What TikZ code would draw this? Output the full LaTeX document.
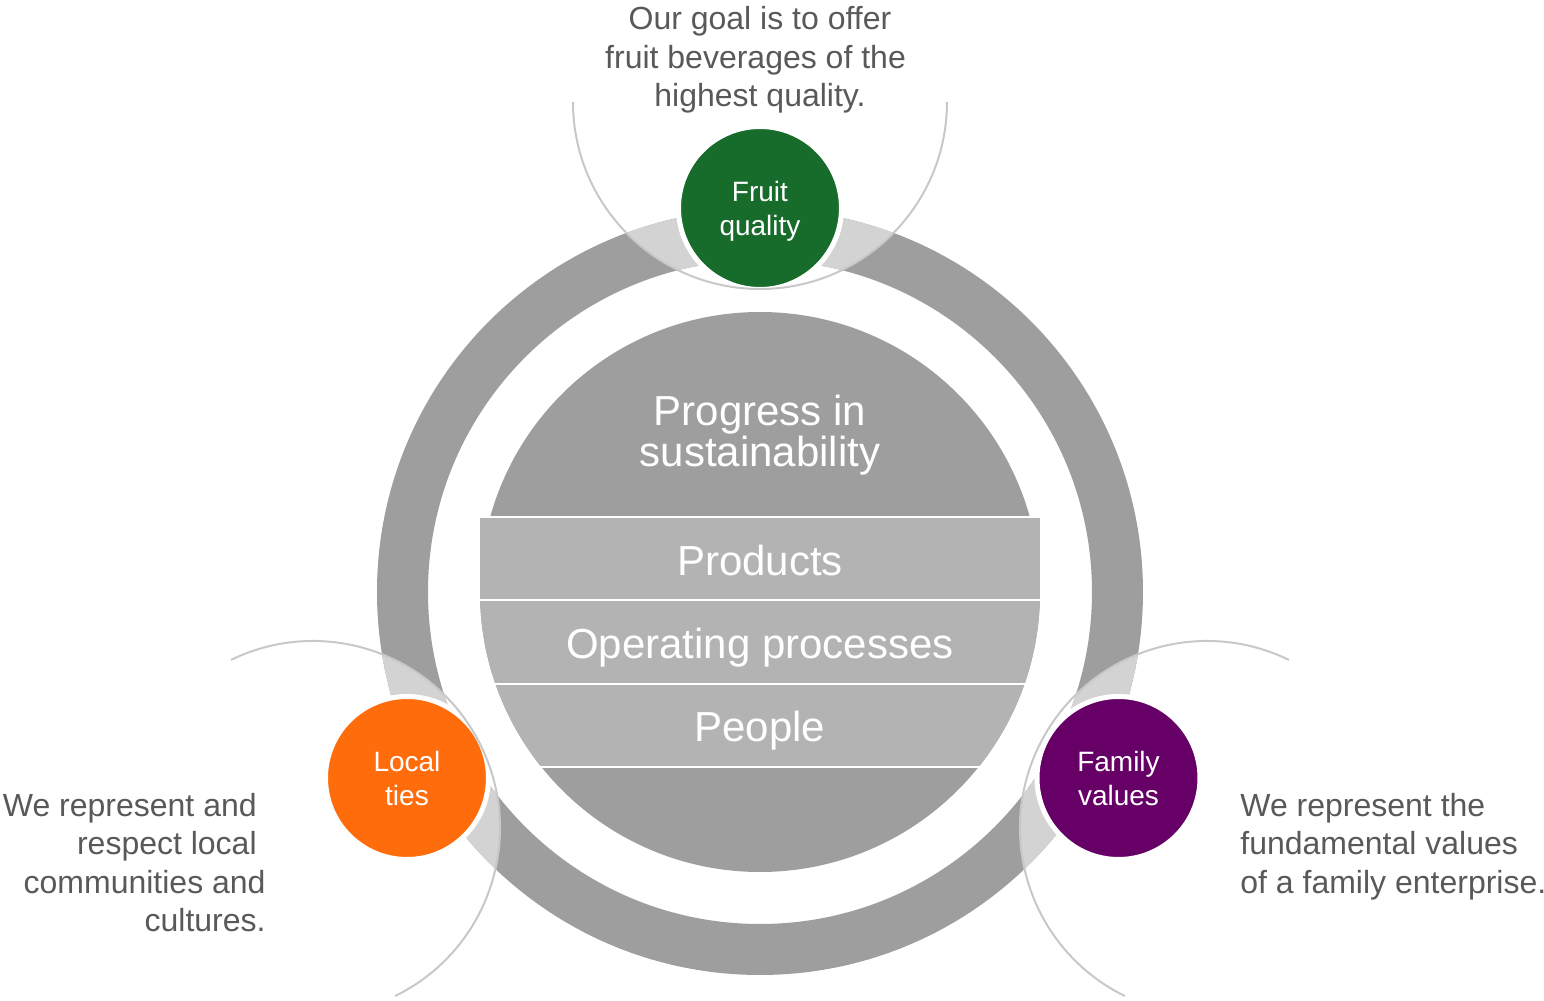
\documentclass[tikz,border=0pt]{standalone}
\usepackage{fontspec}
\setmainfont{Liberation Sans}
\usepackage{tikz}
\usetikzlibrary{positioning}
\usepackage{xcolor}
\definecolor{ringGray}{HTML}{9E9E9E}
\definecolor{ringLight}{HTML}{D3D3D3}
\definecolor{bandGray}{HTML}{B3B3B3}
\definecolor{arcGray}{HTML}{C8C8C8}
\definecolor{textGray}{HTML}{595959}
\definecolor{fruitGreen}{HTML}{176B2B}
\definecolor{tiesOrange}{HTML}{FF6C0C}
\definecolor{familyPurple}{HTML}{660066}

\begin{document}
\begin{tikzpicture}[x=0.5pt, y=0.5pt,
    valueDot/.style={circle, draw=white, line width=2.5pt, minimum size=81.5pt, inner sep=0pt, align=center, text=white, font=\fontsize{14}{17}\selectfont},
    bandLabel/.style={text=white, font=\fontsize{21}{20.5}\selectfont, inner sep=0pt, anchor=base},
    sideText/.style={text=textGray, font=\fontsize{16}{19.25}\selectfont, inner sep=0pt},
    thinArc/.style={draw=arcGray, line width=1pt}
]
    \useasboundingbox (-760,-409) rectangle (784,592);

    % Anello
    \coordinate (hub) at (0,0);
    \coordinate (fruitHalo) at (0,490);
    \coordinate (tiesHalo) at (-447,-236);
    \coordinate (familyHalo) at (447,-236);
    \fill[ringGray, even odd rule] (hub) circle[radius=383] circle[radius=332];
    \begin{scope}
        \clip (fruitHalo) circle[radius=187];
        \fill[ringLight, even odd rule] (hub) circle[radius=383] circle[radius=332];
    \end{scope}
    \begin{scope}
        \clip (tiesHalo) circle[radius=187];
        \fill[ringLight, even odd rule] (hub) circle[radius=383] circle[radius=332];
    \end{scope}
    \begin{scope}
        \clip (familyHalo) circle[radius=187];
        \fill[ringLight, even odd rule] (hub) circle[radius=383] circle[radius=332];
    \end{scope}

    % Disco centrale
    \fill[ringGray] (hub) circle[radius=280];
    \fill[bandGray] (-280,-7) rectangle (280,74);
    \begin{scope}
        \clip (hub) circle[radius=280];
        \fill[bandGray] (-280,-91) rectangle (280,-9);
        \fill[bandGray] (-280,-174) rectangle (280,-93);
    \end{scope}
    \draw[white, line width=1pt] (-281,75) -- (281,75);
    \draw[white, line width=1pt] (-281,-8) -- (281,-8);
    \draw[white, line width=1pt] (-281,-92) -- (281,-92);
    \draw[white, line width=1pt] (-281,-175) -- (281,-175);

    \node[bandLabel, align=center] (progress) at (0,125) {Progress in\\sustainability};
    \node[bandLabel] (products) at (0,16) {Products};
    \node[bandLabel] (processes) at (0,-67) {Operating processes};
    \node[bandLabel] (people) at (0,-150) {People};

    % Valori
    \node[valueDot, fill=fruitGreen] (fruit) at (0,384) {Fruit\\\smash{quality}};
    \node[valueDot, fill=tiesOrange] (ties) at (-353,-186) {Local\\ties};
    \node[valueDot, fill=familyPurple] (family) at (358.5,-186) {Family\\values};

    \draw[thinArc] (fruitHalo) ++(180:187) arc[start angle=180, end angle=360, radius=187];
    \draw[thinArc] (tiesHalo) ++(116:187) arc[start angle=116, end angle=-64, radius=187];
    \draw[thinArc] (familyHalo) ++(64:187) arc[start angle=64, end angle=244, radius=187];

    % Testi
    \node[sideText, align=center, anchor=base] (fruitTxt) at (0,485) {Our goal is to offer\\fruit beverages of the\ \mbox{}\\highest quality.};
    \node[sideText, align=right, anchor=base east] (tiesTxt) at (-494,-340) {We represent and\ \mbox{}\\respect local\ \mbox{}\\communities and\\cultures.};
    \node[sideText, align=left, anchor=base west] (familyTxt) at (480,-301.5) {We represent the\\fundamental values\\of a family enterprise.};
\end{tikzpicture}
\end{document}
